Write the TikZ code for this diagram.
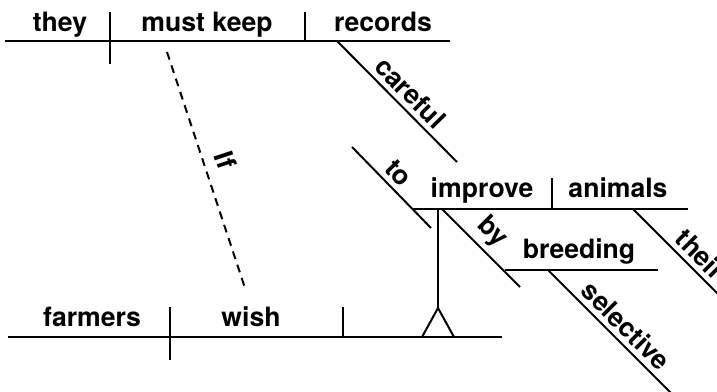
\documentclass[tikz,border=0pt]{standalone}
\usepackage{fontspec}
\setmainfont{TeX Gyre Heros}
\begin{document}
\begin{tikzpicture}[x=1pt,y=-1pt,
  rule/.style={line width=2pt, line cap=butt},
  word/.style={font=\fontsize{26.6}{30}\selectfont\bfseries, anchor=base, inner sep=0pt},
  slab/.style={font=\fontsize{26.6}{30}\selectfont\bfseries, sloped, above, inner sep=5pt}]
\useasboundingbox (0,0) rectangle (717,391);
\clip (0,0) rectangle (717,391);
% coordinates
\coordinate (t0) at (5,41);   \coordinate (t1) at (450,41);
\coordinate (d1a) at (110,12); \coordinate (d1b) at (110,64);
\coordinate (d2a) at (305,12); \coordinate (d2b) at (305,41);
\coordinate (c0) at (337,41);  \coordinate (c1) at (457,162);
\coordinate (f0) at (167,52);  \coordinate (f1) at (245,288);
\coordinate (b0) at (8,337);   \coordinate (b1) at (502,337);
\coordinate (d3a) at (170,307); \coordinate (d3b) at (170,360);
\coordinate (d4a) at (343,307); \coordinate (d4b) at (343,337);
\coordinate (apex) at (438,308); \coordinate (pl) at (422,337); \coordinate (pr) at (454,337);
\coordinate (stem) at (438,209);
\coordinate (i0) at (412,209); \coordinate (i1) at (688,209);
\coordinate (d5a) at (552,178); \coordinate (d5b) at (552,209);
\coordinate (to0) at (352,147); \coordinate (to1) at (431,228);
\coordinate (th0) at (633,209); \coordinate (th1) at (740,316);
\coordinate (by0) at (442,209); \coordinate (by1) at (520,287);
\coordinate (br0) at (505,270); \coordinate (br1) at (658,270);
\coordinate (se0) at (548,270); \coordinate (se1) at (672,394);
% words
\node[word] (they) at (60,31) {they};
\node[word] (mustkeep) at (207,31) {must keep};
\node[word] (records) at (383,31) {records};
\node[word] (improve) at (482,197) {improve};
\node[word] (animals) at (618,197) {animals};
\node[word] (breeding) at (579,258) {breeding};
\node[word] (farmers) at (92,326) {farmers};
\node[word] (wish) at (251,326) {wish};
% main clause
\draw[rule] (t0) -- (t1);
\draw[rule] (d1a) -- (d1b);
\draw[rule] (d2a) -- (d2b);
\draw[rule] (c0) -- (c1) node[slab, pos=0.52] (careful) {careful};
% subordinate clause link
\draw[rule, dash pattern=on 8pt off 6pt] (f0) -- (f1) node[slab, pos=0.486, inner sep=11pt] (if) {If};
% wish clause
\draw[rule] (b0) -- (b1);
\draw[rule] (d3a) -- (d3b);
\draw[rule] (d4a) -- (d4b);
\draw[rule, line join=miter] (pl) -- (apex) -- (pr);
\draw[rule] (apex) -- (stem);
% infinitive
\draw[rule] (i0) -- (i1);
\draw[rule] (d5a) -- (d5b);
\draw[rule] (to0) -- (to1) node[slab, pos=0.45] (to) {to};
\draw[rule] (th0) -- (th1) node[slab, pos=0.53] (their) {their};
\draw[rule] (by0) -- (by1) node[slab, pos=0.47] (by) {by};
\draw[rule] (br0) -- (br1);
\draw[rule] (se0) -- (se1) node[slab, pos=0.54] (selective) {selective};
\end{tikzpicture}
\end{document}
